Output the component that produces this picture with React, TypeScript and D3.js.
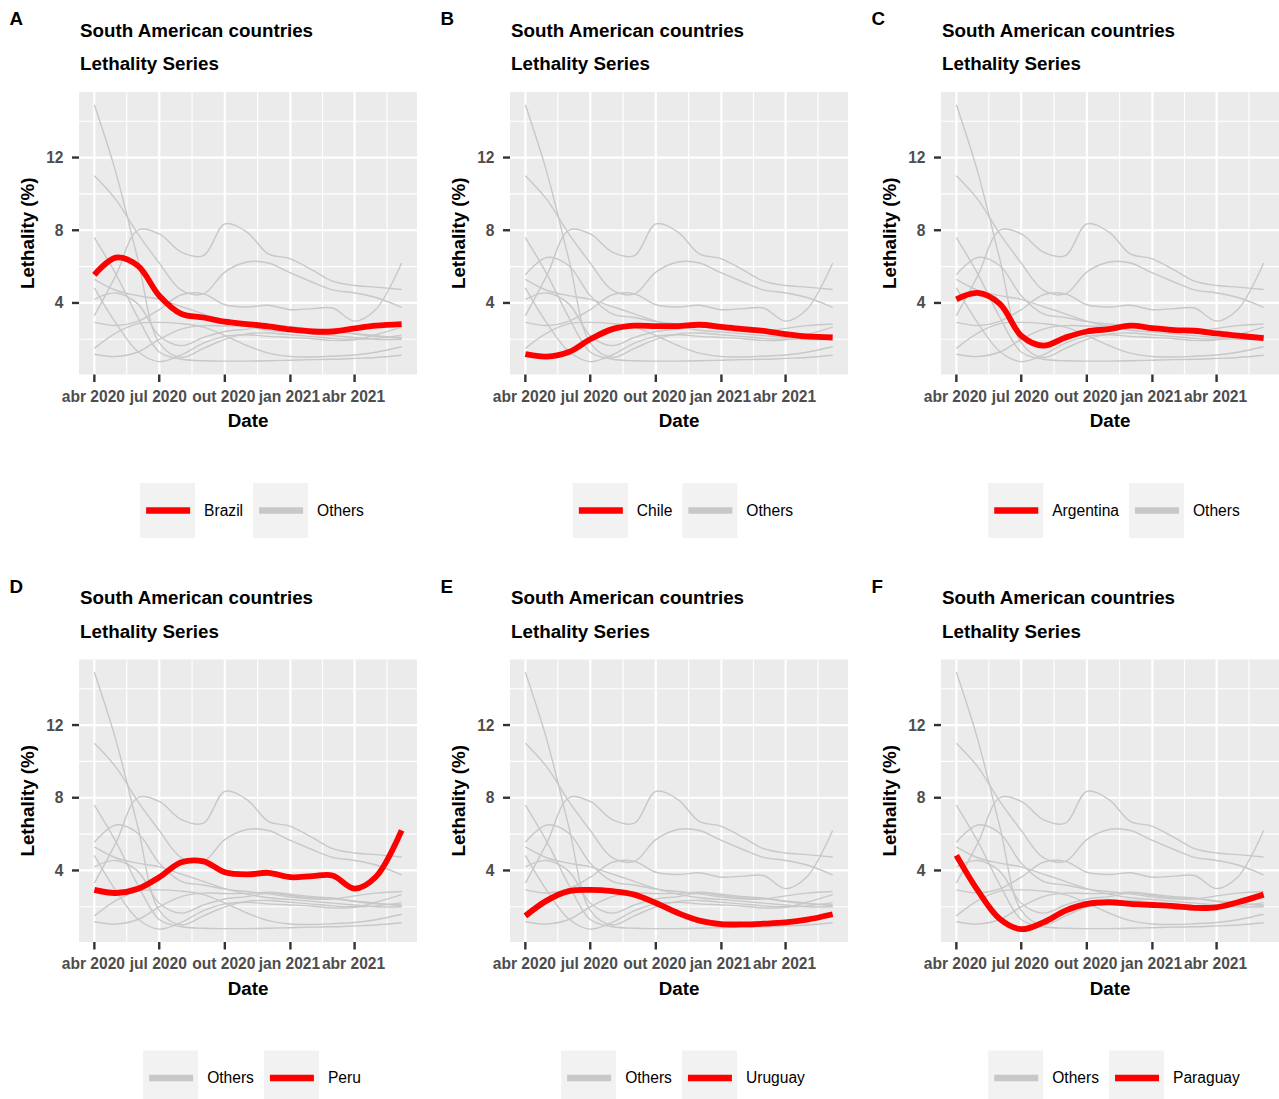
import * as d3 from 'd3';
import * as React from 'react';

const WIDTH = 1279;
const HEIGHT = 1099;
const COL_STEP = 431;
const ROW_STEP = 567.5;
const FONT = "'Liberation Sans', Arial, Helvetica, sans-serif";

// monthly sample dates of the smoothed series
const DATES = [
  '2020-04-01', '2020-05-01', '2020-06-01', '2020-07-01', '2020-08-01',
  '2020-09-01', '2020-10-01', '2020-11-01', '2020-12-01', '2021-01-01',
  '2021-02-01', '2021-03-01', '2021-04-01', '2021-05-01', '2021-06-06',
];

const BRAZIL = [5.55, 6.5, 6.05, 4.4, 3.4, 3.2, 2.97, 2.84, 2.71, 2.54, 2.43, 2.43, 2.6, 2.75, 2.84];
const CHILE = [1.18, 1.05, 1.3, 2.0, 2.56, 2.75, 2.73, 2.73, 2.8, 2.69, 2.56, 2.47, 2.29, 2.16, 2.1];
const ARGENTINA = [4.2, 4.55, 3.95, 2.2, 1.65, 2.1, 2.43, 2.56, 2.75, 2.62, 2.5, 2.47, 2.32, 2.2, 2.06];
const PERU = [2.93, 2.76, 2.99, 3.63, 4.45, 4.5, 3.9, 3.78, 3.87, 3.63, 3.69, 3.72, 3.0, 3.65, 6.2];
const URUGUAY = [1.5, 2.34, 2.86, 2.93, 2.86, 2.67, 2.21, 1.66, 1.24, 1.05, 1.03, 1.07, 1.14, 1.29, 1.59];
const PARAGUAY = [4.83, 2.9, 1.33, 0.77, 1.14, 1.79, 2.16, 2.25, 2.16, 2.1, 2.03, 1.94, 1.97, 2.25, 2.67];
const ECUADOR = [14.9, 11.2, 6.4, 1.8, 1.0, 1.5, 2.0, 2.3, 2.35, 2.25, 2.15, 2.05, 2.0, 2.05, 2.23];
const BOLIVIA = [11.0, 9.7, 7.8, 6.2, 4.7, 4.5, 5.7, 6.25, 6.2, 5.65, 5.14, 4.72, 4.55, 4.3, 3.76];
const COLOMBIA = [7.6, 5.6, 3.2, 1.3, 0.9, 0.82, 0.8, 0.8, 0.82, 0.85, 0.88, 0.9, 0.95, 1.0, 1.12];
const VENEZUELA = [5.3, 4.7, 4.4, 4.2, 3.8, 3.4, 3.0, 2.7, 2.5, 2.4, 2.3, 2.2, 2.1, 2.0, 2.0];
const GUYANA = [3.3, 5.5, 8.0, 7.8, 6.8, 6.6, 8.35, 7.9, 6.7, 6.43, 5.8, 5.2, 4.96, 4.87, 4.74];

const SERIES: { name: string; values: number[] }[] = [
  { name: 'Ecuador', values: ECUADOR },
  { name: 'Bolivia', values: BOLIVIA },
  { name: 'Colombia', values: COLOMBIA },
  { name: 'Venezuela', values: VENEZUELA },
  { name: 'Guyana', values: GUYANA },
  { name: 'Brazil', values: BRAZIL },
  { name: 'Chile', values: CHILE },
  { name: 'Argentina', values: ARGENTINA },
  { name: 'Peru', values: PERU },
  { name: 'Uruguay', values: URUGUAY },
  { name: 'Paraguay', values: PARAGUAY },
];

const TAGS = ['A', 'B', 'C', 'D', 'E', 'F'];
const HIGHLIGHTS = ['Brazil', 'Chile', 'Argentina', 'Peru', 'Uruguay', 'Paraguay'];

const X_BREAKS = ['2020-04-01', '2020-07-01', '2020-10-01', '2021-01-01', '2021-04-01'];
const X_LABELS = ['abr 2020', 'jul 2020', 'out 2020', 'jan 2021', 'abr 2021'];
const Y_BREAKS = [4, 8, 12];

const TITLE = 'South American countries';
const SUBTITLE = 'Lethality Series';
const Y_TITLE = 'Lethality (%)';
const X_TITLE = 'Date';

const parse = d3.timeParse('%Y-%m-%d');
const dates = DATES.map(d => parse(d) as Date);

function measure(text: string, size: number, weight = 'normal') {
  const ctx = document.createElement('canvas').getContext('2d');
  if (!ctx) return text.length * size * 0.55;
  ctx.font = `${weight} ${size}px ${FONT}`;
  return ctx.measureText(text).width;
}

interface PanelProps {
  tag: string;
  country: string;
  col: number;
  row: number;
}

function Panel({ tag, country, col, row }: PanelProps) {
  const ox = col * COL_STEP;
  const oy = row * ROW_STEP;
  const left = ox + 79;
  const right = ox + 417;
  const top = oy + 92;
  const bottom = oy + 374.5;

  const [d0, d1] = d3.extent(dates) as [Date, Date];
  const pad = (+d1 - +d0) * 0.05;
  const x = d3
    .scaleTime()
    .domain([new Date(+d0 - pad), new Date(+d1 + pad)])
    .range([left, right]);

  const all = SERIES.flatMap(s => s.values);
  const lo = d3.min(all) as number;
  const hi = d3.max(all) as number;
  const ypad = (hi - lo) * 0.05;
  const y = d3.scaleLinear().domain([lo - ypad, hi + ypad]).range([bottom, top]);

  const line = d3
    .line<number>()
    .x((_, i) => x(dates[i]))
    .y(v => y(v))
    .curve(d3.curveCatmullRom.alpha(0.5));

  const xBreaks = X_BREAKS.map(d => parse(d) as Date);
  const xExt = [d3.timeMonth.offset(xBreaks[0], -3), ...xBreaks, d3.timeMonth.offset(xBreaks[xBreaks.length - 1], 3)];
  const xMinor = d3
    .pairs(xExt)
    .map(([a, b]) => x(new Date((+a + +b) / 2)))
    .filter(v => v > left && v < right);
  const yExt = [0, ...Y_BREAKS, 16];
  const yMinor = d3
    .pairs(yExt)
    .map(([a, b]) => y((a + b) / 2))
    .filter(v => v > top && v < bottom);

  const highlighted = SERIES.find(s => s.name === country)!;
  const others = SERIES.filter(s => s.name !== country);

  // legend
  const labels = [country, 'Others'].sort();
  const keyW = 55;
  const legendFont = 15.6;
  const widths = labels.map(l => measure(l, legendFont));
  const total = keyW + 9 + widths[0] + 10 + keyW + 9 + widths[1];
  const lx0 = (left + right) / 2 + 4 - total / 2;
  const ly = oy + 510.5;
  let cursor = lx0;
  const legendItems = labels.map((l, i) => {
    const item = { label: l, x: cursor, color: l === 'Others' ? '#C8C8C8' : '#FF0000' };
    cursor += keyW + 9 + widths[i] + 10;
    return item;
  });

  const clipId = `clip-${tag}`;

  return (
    <g>
      <text x={ox + 9.5} y={oy + 25} fontSize={18.8} fontWeight="bold" fontFamily={FONT}>
        {tag}
      </text>
      <text x={left + 1} y={oy + 36.5} fontSize={18.8} fontWeight="bold" fontFamily={FONT}>
        {TITLE}
      </text>
      <text x={left + 1} y={oy + 70} fontSize={18.8} fontWeight="bold" fontFamily={FONT}>
        {SUBTITLE}
      </text>

      <defs>
        <clipPath id={clipId}>
          <rect x={left} y={top} width={right - left} height={bottom - top} />
        </clipPath>
      </defs>
      <rect x={left} y={top} width={right - left} height={bottom - top} fill="#EBEBEB" />
      {yMinor.map((v, i) => (
        <line key={`ym${i}`} x1={left} x2={right} y1={v} y2={v} stroke="#fff" strokeWidth={1.1} />
      ))}
      {xMinor.map((v, i) => (
        <line key={`xm${i}`} x1={v} x2={v} y1={top} y2={bottom} stroke="#fff" strokeWidth={1.1} />
      ))}
      {Y_BREAKS.map(b => (
        <line key={`yM${b}`} x1={left} x2={right} y1={y(b)} y2={y(b)} stroke="#fff" strokeWidth={2.2} />
      ))}
      {xBreaks.map((b, i) => (
        <line key={`xM${i}`} x1={x(b)} x2={x(b)} y1={top} y2={bottom} stroke="#fff" strokeWidth={2.2} />
      ))}

      <g clipPath={`url(#${clipId})`}>
        {others.map(s => (
          <path key={s.name} d={line(s.values) || ''} fill="none" stroke="#C8C8C8" strokeWidth={1.4} />
        ))}
        <path d={line(highlighted.values) || ''} fill="none" stroke="#FF0000" strokeWidth={5.8} />
      </g>

      {/* y axis */}
      {Y_BREAKS.map(b => (
        <g key={`yt${b}`}>
          <line x1={left - 7} x2={left} y1={y(b)} y2={y(b)} stroke="#333" strokeWidth={2.4} />
          <text
            x={left - 15.5}
            y={y(b)}
            dy="0.35em"
            textAnchor="end"
            fontSize={15.6}
            fontWeight="bold"
            fill="#4D4D4D"
            fontFamily={FONT}
          >
            {b}
          </text>
        </g>
      ))}
      {/* x axis */}
      {xBreaks.map((b, i) => (
        <g key={`xt${i}`}>
          <line x1={x(b)} x2={x(b)} y1={bottom} y2={bottom + 7.5} stroke="#333" strokeWidth={2.4} />
          <text
            x={x(b) - 1}
            y={oy + 401.5}
            textAnchor="middle"
            fontSize={15.6}
            fontWeight="bold"
            fill="#4D4D4D"
            fontFamily={FONT}
          >
            {X_LABELS[i]}
          </text>
        </g>
      ))}
      <text
        x={(left + right) / 2}
        y={oy + 427}
        textAnchor="middle"
        fontSize={18.8}
        fontWeight="bold"
        fontFamily={FONT}
      >
        {X_TITLE}
      </text>
      <text
        transform={`translate(${ox + 34},${(top + bottom) / 2}) rotate(-90)`}
        textAnchor="middle"
        fontSize={18.8}
        fontWeight="bold"
        fontFamily={FONT}
      >
        {Y_TITLE}
      </text>

      {/* legend */}
      {legendItems.map(it => (
        <g key={it.label}>
          <rect x={it.x} y={ly - keyW / 2} width={keyW} height={keyW} fill="#F2F2F2" />
          <line x1={it.x + 6} x2={it.x + keyW - 5} y1={ly} y2={ly} stroke={it.color} strokeWidth={6.5} />
          <text x={it.x + keyW + 9} y={ly} dy="0.35em" fontSize={legendFont} fontFamily={FONT}>
            {it.label}
          </text>
        </g>
      ))}
    </g>
  );
}

export default function App() {
  return (
    <svg
      width={WIDTH}
      height={HEIGHT}
      viewBox={`0 0 ${WIDTH} ${HEIGHT}`}
      style={{ position: 'absolute', left: 0, top: 0, background: '#fff' }}
    >
      <rect width={WIDTH} height={HEIGHT} fill="#fff" />
      {HIGHLIGHTS.map((c, i) => (
        <Panel key={c} tag={TAGS[i]} country={c} col={i % 3} row={Math.floor(i / 3)} />
      ))}
    </svg>
  );
}
